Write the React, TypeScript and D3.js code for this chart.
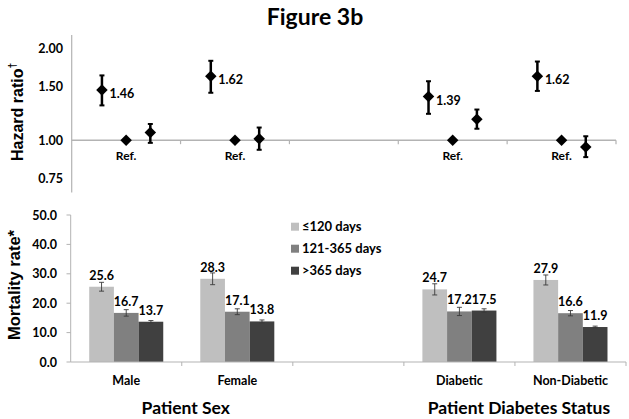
import React from 'react';
import * as d3 from 'd3';

// categories along the x axis (the middle slot is an empty spacer)
const categories = ['Male', 'Female', 'gap', 'Diabetic', 'Non-Diabetic'];
const series = ['≤120 days', '121-365 days', '>365 days'];
const seriesColors = ['#bfbfbf', '#808080', '#404040'];
const groupLabels = ['Patient Sex', 'Patient Diabetes Status'];
const groupMembers = [['Male', 'Female'], ['Diabetic', 'Non-Diabetic']];

// mortality rate per series (per category)
const rate120 = [25.6, 28.3, null, 24.7, 27.9];
const rate365 = [16.7, 17.1, null, 17.2, 16.6];
const rateOver = [13.7, 13.8, null, 17.5, 11.9];
const err120 = [1.5, 2.0, null, 1.9, 1.7];
const err365 = [1.1, 1.0, null, 1.4, 0.9];
const errOver = [0.4, 0.5, null, 0.6, 0.3];

// hazard ratios; the 121-365 group is the reference
const hr120 = [1.46, 1.62, null, 1.39, 1.62];
const hr120Lo = [1.30, 1.43, null, 1.22, 1.45];
const hr120Hi = [1.63, 1.82, null, 1.56, 1.81];
const hrRef = [1.0, 1.0, null, 1.0, 1.0];
const hrOver = [1.06, 1.01, null, 1.17, 0.95];
const hrOverLo = [0.98, 0.93, null, 1.09, 0.88];
const hrOverHi = [1.13, 1.10, null, 1.26, 1.03];
const hrTicks = [0.75, 1.0, 1.5, 2.0];
const hrLabelled = [true, false, false];

const rateTicks = [0, 10, 20, 30, 40, 50];

const FONT = 'Lato, "Open Sans", sans-serif';
const AXIS = '#b3b3b3';

export default function App() {
    const width = 629;
    const height = 419;

    // top panel scales
    const xTop = d3.scaleBand().domain(categories).range([71.7, 616]);
    const xTopInner = d3.scaleBand().domain(series).range([0, xTop.bandwidth()]).paddingOuter(0.75);
    const yHr = d3.scaleLog().domain([0.75, 2.0]).range([178.3, 48.3]);

    // bottom panel scales
    const xBot = d3.scaleBand().domain(categories).range([70.7, 626]);
    const xBotInner = d3.scaleBand().domain(series).range([0, xBot.bandwidth()]).paddingOuter(0.75);
    const yRate = d3.scaleLinear().domain([0, 50]).range([362, 215]);

    const rates = [rate120, rate365, rateOver];
    const rateErrs = [err120, err365, errOver];
    const hrVals = [hr120, hrRef, hrOver];
    const hrLo = [hr120Lo, null, hrOverLo];
    const hrHi = [hr120Hi, null, hrOverHi];

    const diamond = d3.symbol().type(d3.symbolSquare).size(66)();

    return (
        <svg width={width} height={height} style={{ position: 'absolute', left: 0, top: 0, background: '#fff' }}>
            <text x={315} y={25} textAnchor="middle" fontFamily={FONT} fontWeight="bold" fontSize={23}>Figure 3b</text>

            {/* ---------- hazard ratio panel ---------- */}
            <text transform={`translate(23, 112) rotate(-90)`} textAnchor="middle"
                fontFamily='"Liberation Sans", Arial, sans-serif' fontWeight="bold" fontSize={16}>
                Hazard ratio<tspan fontSize={10} dy={-7}>†</tspan>
            </text>
            <line x1={71.7} x2={71.7} y1={35} y2={192.5} stroke={AXIS} strokeWidth={1.2} />
            {hrTicks.map(t => (
                <text key={t} x={63} y={yHr(t) + 4.5} textAnchor="end" fontFamily={FONT} fontWeight="bold" fontSize={12.5}>
                    {t.toFixed(2)}
                </text>
            ))}
            <line x1={xTop.range()[0]} x2={xTop.range()[1]} y1={yHr(1)} y2={yHr(1)} stroke={AXIS} strokeWidth={1.5} />
            {categories.map(c => (
                <line key={c} x1={xTop(c)! + xTop.bandwidth()} x2={xTop(c)! + xTop.bandwidth()}
                    y1={yHr(1)} y2={yHr(1) + 4} stroke={AXIS} strokeWidth={1.2} />
            ))}
            {series.map((s, si) => categories.map((c, ci) => {
                const v = hrVals[si][ci];
                if (v == null) return null;
                const cx = xTop(c)! + xTopInner(s)! + xTopInner.bandwidth() / 2;
                const cy = yHr(v);
                const lo = hrLo[si] ? hrLo[si]![ci]! : null;
                const hi = hrHi[si] ? hrHi[si]![ci]! : null;
                return (
                    <g key={s + c}>
                        {lo != null && hi != null && (
                            <g stroke="#000" strokeWidth={2.5}>
                                <line x1={cx} x2={cx} y1={yHr(hi)} y2={yHr(lo)} />
                                <line x1={cx - 2.5} x2={cx + 2.5} y1={yHr(hi)} y2={yHr(hi)} strokeWidth={2} />
                                <line x1={cx - 2.5} x2={cx + 2.5} y1={yHr(lo)} y2={yHr(lo)} strokeWidth={2} />
                            </g>
                        )}
                        <path d={diamond} transform={`translate(${cx},${cy}) rotate(45)`} fill="#000" />
                        {hrLabelled[si] && (
                            <text x={cx + 7.5} y={cy + 8} fontFamily={FONT} fontWeight="bold" fontSize={12.5}>{v.toFixed(2)}</text>
                        )}
                        {v === 1 && si === 1 && (
                            <text x={cx} y={cy + 20} textAnchor="middle" fontFamily={FONT} fontWeight="bold" fontSize={12}>Ref.</text>
                        )}
                    </g>
                );
            }))}

            {/* ---------- mortality rate panel ---------- */}
            <text transform={`translate(20, 285) rotate(-90)`} textAnchor="middle"
                fontFamily='"Liberation Sans", Arial, sans-serif' fontWeight="bold" fontSize={16.5}>
                Mortality rate*
            </text>
            <line x1={70.7} x2={70.7} y1={yRate(50)} y2={yRate(0)} stroke={AXIS} strokeWidth={1} />
            {rateTicks.map(t => (
                <g key={t}>
                    <line x1={66.5} x2={70.7} y1={yRate(t)} y2={yRate(t)} stroke={AXIS} />
                    <text x={57} y={yRate(t) + 4.5} textAnchor="end" fontFamily={FONT} fontWeight="bold" fontSize={12.5}>
                        {t.toFixed(1)}
                    </text>
                </g>
            ))}
            {series.map((s, si) => categories.map((c, ci) => {
                const v = rates[si][ci];
                if (v == null) return null;
                const e = rateErrs[si][ci]!;
                const bx = xBot(c)! + xBotInner(s)!;
                const bw = xBotInner.bandwidth();
                const cx = bx + bw / 2;
                return (
                    <g key={s + c}>
                        <rect x={bx} y={yRate(v)} width={bw} height={yRate(0) - yRate(v)} fill={seriesColors[si]} />
                        <g stroke="#3a3a3a" strokeWidth={0.9}>
                            <line x1={cx} x2={cx} y1={yRate(v + e)} y2={yRate(v - e)} />
                            <line x1={cx - 2.5} x2={cx + 2.5} y1={yRate(v + e)} y2={yRate(v + e)} />
                            <line x1={cx - 2.5} x2={cx + 2.5} y1={yRate(v - e)} y2={yRate(v - e)} />
                        </g>
                        <text x={cx} y={yRate(v) - 7} textAnchor="middle" fontFamily={FONT} fontWeight="bold" fontSize={12.5}>
                            {v.toFixed(1)}
                        </text>
                    </g>
                );
            }))}
            <line x1={xBot.range()[0]} x2={xBot.range()[1]} y1={yRate(0)} y2={yRate(0)} stroke={AXIS} strokeWidth={1.2} />
            {categories.map(c => (
                <line key={c} x1={xBot(c)! + xBot.bandwidth()} x2={xBot(c)! + xBot.bandwidth()}
                    y1={yRate(0)} y2={yRate(0) + 4} stroke={AXIS} />
            ))}
            {categories.filter(c => c !== 'gap').map(c => (
                <text key={c} x={xBot(c)! + xBot.bandwidth() / 2} y={385} textAnchor="middle"
                    fontFamily={FONT} fontWeight="bold" fontSize={12.5}>{c}</text>
            ))}
            {groupLabels.map((g, gi) => {
                const xs = groupMembers[gi].map(c => xBot(c)! + xBot.bandwidth() / 2);
                return (
                    <text key={g} x={d3.mean(xs)! + 4} y={414} textAnchor="middle"
                        fontFamily={FONT} fontWeight="bold" fontSize={17.5}>{g}</text>
                );
            })}

            {/* legend */}
            {series.map((s, si) => (
                <g key={s} transform={`translate(291, ${226.7 + si * 22})`}>
                    <rect x={0} y={-4} width={8} height={8} fill={seriesColors[si]} />
                    <text x={11} y={4.5} fontFamily={FONT} fontWeight="bold" fontSize={13}>{s}</text>
                </g>
            ))}
        </svg>
    );
}
